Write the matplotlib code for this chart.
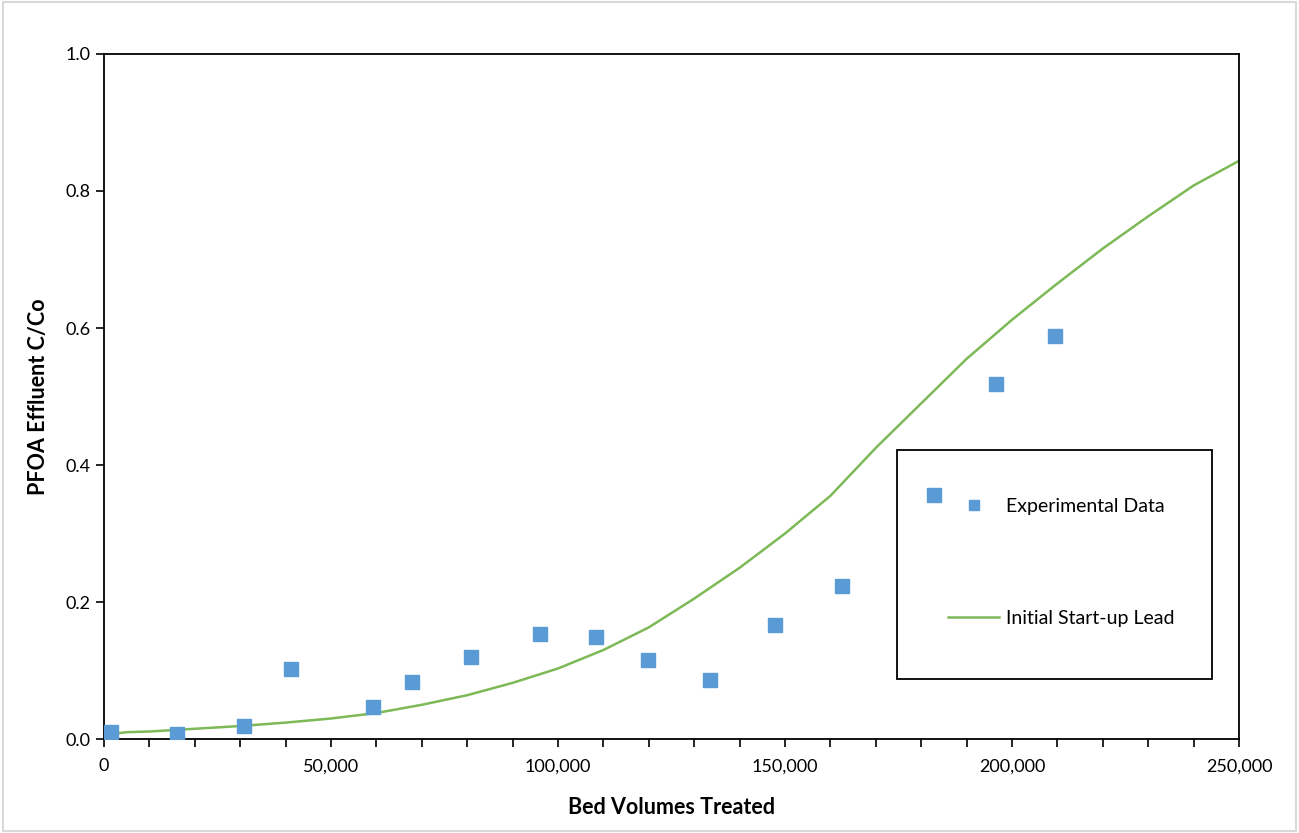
import matplotlib
matplotlib.use("Agg")
import matplotlib.pyplot as plt
from matplotlib.ticker import MultipleLocator, FuncFormatter
from matplotlib.patches import Rectangle

plt.rcParams['font.family'] = ['Lato', 'DejaVu Sans']

# Experimental data
exp_x = [1500, 16100, 30800, 41200, 59300, 67800, 80800, 96000, 108400,
         119800, 133500, 147800, 162600, 182800, 196500, 209500]
exp_y = [0.010, 0.007, 0.019, 0.102, 0.047, 0.083, 0.120, 0.153, 0.149,
         0.115, 0.086, 0.166, 0.223, 0.356, 0.518, 0.588]

# Model line: Initial Start-up Lead
mod_x = [0, 5000, 10000, 20000, 30000, 40000, 50000, 60000, 70000, 80000,
         90000, 100000, 110000, 120000, 130000, 140000, 150000, 160000,
         170000, 180000, 190000, 200000, 210000, 220000, 230000, 240000, 250000]
mod_y = [0.006, 0.010, 0.011, 0.015, 0.019, 0.024, 0.030, 0.038, 0.050, 0.064,
         0.082, 0.103, 0.130, 0.163, 0.205, 0.250, 0.300, 0.355,
         0.425, 0.490, 0.555, 0.612, 0.665, 0.716, 0.763, 0.808, 0.844]

fig = plt.figure(figsize=(12.99, 8.33), dpi=100)
ax = fig.add_axes([0.0801, 0.1128, 0.9538 - 0.0801, 0.9352 - 0.1128])

ax.plot(exp_x, exp_y, linestyle='none', marker='s', markersize=10,
        color='#5B9BD5', markeredgecolor='#5B9BD5', label='Experimental Data', zorder=3)
ax.plot(mod_x, mod_y, color='#7DB956', linewidth=1.8, label='Initial Start-up Lead', zorder=2)

ax.set_xlim(0, 250000)
ax.set_ylim(0, 1.0)
ax.xaxis.set_major_locator(MultipleLocator(50000))
ax.xaxis.set_minor_locator(MultipleLocator(10000))
ax.yaxis.set_major_locator(MultipleLocator(0.2))
ax.xaxis.set_major_formatter(FuncFormatter(lambda v, p: f"{int(v):,}"))
ax.yaxis.set_major_formatter(FuncFormatter(lambda v, p: f"{v:.1f}"))
ax.tick_params(axis='both', which='both', direction='out', length=6, width=1.2,
               labelsize=13, color='black')
ax.tick_params(axis='x', pad=8)
for s in ax.spines.values():
    s.set_linewidth(1.3)
    s.set_color('black')

ax.set_xlabel('Bed Volumes Treated', fontsize=15.5, fontweight='bold', labelpad=16)
ax.set_ylabel('PFOA Effluent C/Co', fontsize=15.5, fontweight='bold', labelpad=12)

# Legend frame
lx0, ly0, lw, lh = 0.699, 0.0876, 0.277, 0.335
ax.add_patch(Rectangle((lx0, ly0), lw, lh, transform=ax.transAxes, fill=True,
                       facecolor='white', edgecolor='black', linewidth=1.3, zorder=1))
leg = ax.legend(loc='center', bbox_to_anchor=(lx0 + lw / 2 + 0.006, ly0 + lh / 2 + 0.003),
                frameon=False, fontsize=14, labelspacing=4.9, handlelength=2.6,
                handletextpad=0.35, markerscale=0.75)
leg.set_zorder(4)

# figure border
fig.patches.append(Rectangle((0.002, 0.002), 0.996, 0.996, transform=fig.transFigure,
                             fill=False, edgecolor='#d9d9d9', linewidth=1.5))

fig.savefig('out.png', dpi=100)
